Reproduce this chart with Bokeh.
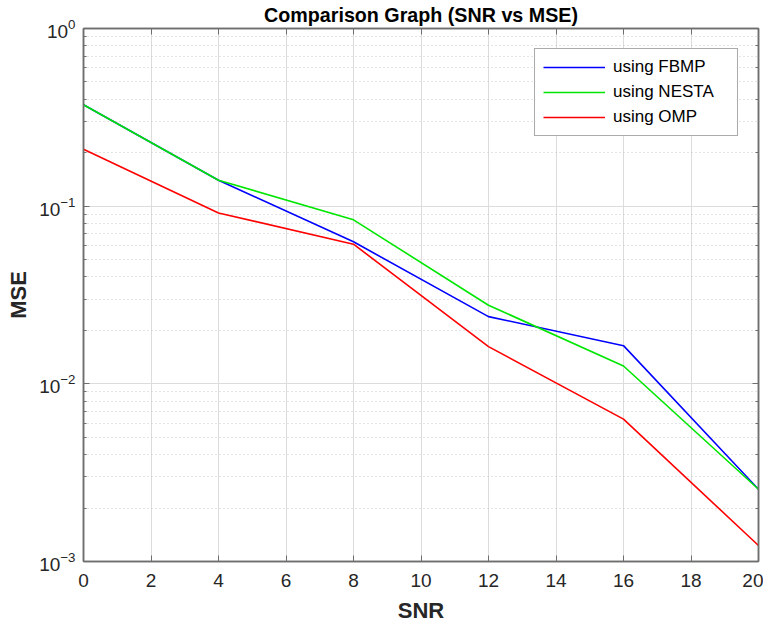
from bokeh.plotting import figure
from bokeh.models import (LinearAxis, LogAxis, FixedTicker, Legend, LegendItem,
                          LogTicker)
from bokeh.embed import file_html
from bokeh.resources import INLINE

# ---- data ----
snr = [0, 4, 8, 12, 16, 20]
mse_fbmp = [0.372, 0.140, 0.063, 0.0239, 0.0164, 0.00255]
mse_nesta = [0.372, 0.140, 0.0838, 0.0277, 0.0126, 0.00255]
mse_omp = [0.209, 0.0916, 0.0611, 0.0162, 0.00633, 0.00123]
x_ticks = [0, 2, 4, 6, 8, 10, 12, 14, 16, 18, 20]
series_names = ["using FBMP", "using NESTA", "using OMP"]
series_colors = ["#0000ff", "#00e600", "#ff0000"]

FONT = "Liberation Sans"
TXT = "#262626"
AX = "#6e6e6e"

p = figure(width=763, height=630, y_axis_type="log",
           x_range=(0, 20), y_range=(1e-3, 1),
           output_backend="svg", toolbar_location=None,
           min_border_left=83, min_border_right=5,
           min_border_top=28, min_border_bottom=69,
           title="Comparison Graph (SNR vs MSE)")

p.title.text_font = FONT
p.title.text_font_size = "19.7px"
p.title.text_font_style = "bold"
p.title.text_color = "#000000"
p.title.align = "center"
p.title.vertical_align = "top"
p.title.standoff = 2

p.background_fill_color = "white"
p.border_fill_color = "white"
p.outline_line_color = AX
p.outline_line_width = 1.5

# grids
p.xgrid.ticker = FixedTicker(ticks=x_ticks)
p.xgrid.grid_line_color = "#dcdcdc"
p.xgrid.grid_line_width = 1
p.ygrid.grid_line_color = "#dcdcdc"
p.ygrid.grid_line_width = 1
p.ygrid.minor_grid_line_color = "#c8c8c8"
p.ygrid.minor_grid_line_dash = "1 3"
p.ygrid.minor_grid_line_width = 1

# bottom / left axes
xa = p.xaxis[0]
xa.ticker = FixedTicker(ticks=x_ticks)
xa.axis_label = "SNR"
ya = p.yaxis[0]
ya.axis_label = "MSE"
for ax in (xa, ya):
    ax.axis_line_color = AX
    ax.axis_line_width = 1.5
    ax.major_tick_line_color = AX
    ax.minor_tick_line_color = AX
    ax.major_tick_in = 6
    ax.major_tick_out = 0
    ax.minor_tick_in = 3
    ax.minor_tick_out = 0
    ax.major_label_text_font = FONT
    ax.major_label_text_font_size = "19px"
    ax.major_label_text_color = TXT
    ax.axis_label_text_font = FONT
    ax.axis_label_text_font_size = "22px"
    ax.axis_label_text_font_style = "bold"
    ax.axis_label_text_color = TXT
xa.minor_tick_line_color = None
xa.major_label_standoff = 12
xa.axis_label_standoff = 8
ya.major_label_standoff = 8
ya.axis_label_standoff = 5

# top / right axes (ticks only)
top = LinearAxis(ticker=FixedTicker(ticks=x_ticks))
right = LogAxis(ticker=LogTicker())
for ax in (top, right):
    ax.axis_line_color = AX
    ax.axis_line_width = 1.5
    ax.major_tick_line_color = AX
    ax.minor_tick_line_color = AX
    ax.major_tick_in = 6
    ax.major_tick_out = 0
    ax.minor_tick_in = 3
    ax.minor_tick_out = 0
    ax.major_label_text_font_size = "1px"
    ax.major_label_text_alpha = 0
    ax.major_label_standoff = 0
top.minor_tick_line_color = None
p.add_layout(top, "above")
p.add_layout(right, "right")

# lines
series = [mse_fbmp, mse_nesta, mse_omp]
items = []
for name, ys, col in zip(series_names, series, series_colors):
    r = p.line(snr, ys, line_color=col, line_width=1.6)
    items.append(LegendItem(label=name, renderers=[r]))

legend = Legend(items=items, location="top_right")
legend.label_text_font = FONT
legend.label_text_font_size = "17px"
legend.label_text_color = "#000000"
legend.glyph_width = 62
legend.glyph_height = 20
legend.label_height = 20
legend.label_standoff = 8
legend.label_width = 116
legend.spacing = 5
legend.padding = 8
legend.margin = 20
legend.border_line_color = "#555555"
legend.border_line_width = 1
legend.background_fill_color = "white"
legend.background_fill_alpha = 1
p.add_layout(legend, "center")

open("out.html", "w").write(file_html(p, INLINE))
